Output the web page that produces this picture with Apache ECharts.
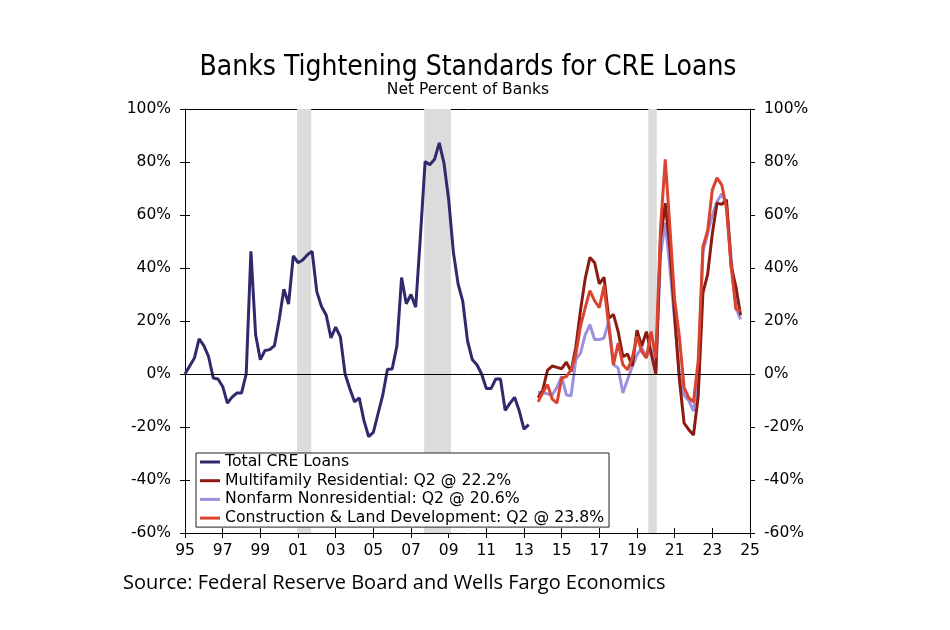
<!DOCTYPE html>
<html><head><meta charset="utf-8">
<script src="https://cdn.jsdelivr.net/npm/echarts@6/dist/echarts.min.js"></script>
<style>html,body{margin:0;padding:0;background:#fff}#c{width:950px;height:630px}</style>
</head><body><div id="c"></div>
<script>
// x axis is in quarters counted from 1995Q1 (index 0) to 2025Q1 (index 120)
const yearTicks = ['95','97','99','01','03','05','07','09','11','13','15','17','19','21','23','25'];
const totalStart = 0;   // 1995Q1
const subStart = 75;    // 2013Q4
const totalCRE = [0, 3, 6, 13.3, 10.7, 6.6, -1.5, -1.9, -4.7, -11, -8.7, -7.2, -7.2, 0, 46.3, 14.8, 5.4, 8.9, 9.2, 10.7, 20.5, 32, 26.4, 44.6, 42, 43, 45, 46.3, 31, 25.5, 22.2, 13.6, 17.7, 14, 0, -5.5, -10.5, -9, -17.5, -23.6, -22, -15, -8, 1.8, 1.9, 10.5, 36.4, 26.5, 30, 25.2, 52, 80.2, 79, 81, 87.2, 79.6, 65.8, 46, 34, 27.4, 12.6, 5.5, 3.5, 0, -5.5, -5.5, -1.9, -1.9, -13.7, -11.1, -8.8, -14, -20.8, -19.1];
const multifamily = [-9, -6, 1.5, 3, 2.5, 2, 4.5, 1, 10, 24, 36, 44, 42, 34, 36.5, 21, 22.5, 16, 6.5, 7.5, 3, 16.5, 10.5, 16, 8, 0, 50.7, 64.5, 47, 22, -2, -18.5, -21, -23, -8.4, 30.6, 37.6, 53, 64.5, 64, 65.8, 40.6, 33, 22.2];
const nonfarm = [-7, -7, -7.5, -7.9, -5, -0.9, -7.9, -8.2, 5.4, 7.9, 14.8, 18.6, 13, 13, 13.6, 19.9, 3.5, 2.3, -7.2, -2.1, 2.9, 7.3, 9.8, 6.7, 9, 1, 45, 57, 40, 20, 0, -8, -10, -14, -2, 46, 53, 60, 65, 68, 64, 44, 25, 20.6];
const construction = [-10.5, -7, -4, -9.5, -11, -1.5, -1, 1.6, 7.3, 18, 25, 31.5, 27.6, 25, 33.3, 18, 3.5, 11.7, 3.5, 1.6, 6, 14.2, 8.5, 6, 16, 6, 55, 81, 55, 28, 14, -5, -9, -10.5, 5, 48, 54, 69.5, 74, 71.4, 62.6, 40.6, 24.5, 23.8];
const recessions = [[2000.95, 2001.7], [2007.7, 2009.12], [2019.6, 2020.05]];
const seriesNames = ['Total CRE Loans', 'Multifamily Residential: Q2 @ 22.2%', 'Nonfarm Nonresidential: Q2 @ 20.6%', 'Construction & Land Development: Q2 @ 23.8%'];
const seriesColors = ['#2f2a6b', '#8c1c12', '#9d90dc', '#d9432f'];

const yearToQ = y => (y - 1995) * 4;
const toPts = (arr, start) => arr.map((v, i) => [start + i, v]);
const FONT = 'DejaVu Sans';

const xBase = {type: 'value', min: 0, max: 120, interval: 8, gridIndex: 0, splitLine: {show: false}};
const yBase = {type: 'value', min: -60, max: 100, interval: 20, splitLine: {show: false}};
const lineAx = {show: true, onZero: false, lineStyle: {color: '#000', width: 1}};

const chart = echarts.init(document.getElementById('c'), null, {renderer: 'canvas'});
const mkLine = (name, arr, start, color, z) => ({
  name, type: 'line', data: toPts(arr, start), showSymbol: false, symbol: 'none',
  lineStyle: {color, width: 3}, itemStyle: {color}, z, animation: false
});
chart.setOption({
  animation: false,
  backgroundColor: '#fff',
  grid: {left: 185, right: 200, top: 109, bottom: 97},
  xAxis: [
    Object.assign({}, xBase, {position: 'bottom', axisLine: lineAx,
      axisTick: {show: true, length: 5, lineStyle: {color: '#000'}},
      axisLabel: {formatter: v => yearTicks[Math.round(v / 8)], color: '#000', fontSize: 15.5, fontFamily: FONT, margin: 10}}),
    Object.assign({}, xBase, {position: 'bottom', axisLine: {show: false, onZero: false},
      axisTick: {show: true, inside: true, length: 5, lineStyle: {color: '#000'}}, axisLabel: {show: false}}),
    Object.assign({}, xBase, {position: 'top', axisLine: lineAx, axisTick: {show: false}, axisLabel: {show: false}})
  ],
  yAxis: [
    Object.assign({}, yBase, {position: 'left', axisLine: lineAx,
      axisTick: {show: true, length: 5, lineStyle: {color: '#000'}},
      axisLabel: {formatter: v => v + '%', color: '#000', fontSize: 15.5, fontFamily: FONT, margin: 14}}),
    Object.assign({}, yBase, {position: 'left', axisLine: {show: false},
      axisTick: {show: true, inside: true, length: 5, lineStyle: {color: '#000'}}, axisLabel: {show: false}}),
    Object.assign({}, yBase, {position: 'right', axisLine: lineAx,
      axisTick: {show: true, length: 5, lineStyle: {color: '#000'}},
      axisLabel: {formatter: v => v + '%', color: '#000', fontSize: 15.5, fontFamily: FONT, margin: 14}}),
    Object.assign({}, yBase, {position: 'right', axisLine: {show: false},
      axisTick: {show: true, inside: true, length: 5, lineStyle: {color: '#000'}}, axisLabel: {show: false}})
  ],
  legend: {
    data: seriesNames, orient: 'vertical', left: 196, top: 453,
    icon: 'rect', itemWidth: 20, itemHeight: 3, itemGap: 2.7,
    padding: [1, 5, 1, 4], borderColor: '#222', borderWidth: 1, backgroundColor: '#fff',
    textStyle: {fontSize: 15.7, fontFamily: FONT, color: '#000', lineHeight: 15},
    selectedMode: false
  },
  graphic: [
    {type: 'text', x: 468, y: 68, style: {text: 'Banks Tightening Standards for CRE Loans', font: '28px "DejaVu Sans Condensed"', fill: '#000', align: 'center', verticalAlign: 'middle'}},
    {type: 'text', x: 468, y: 90, style: {text: 'Net Percent of Banks', font: '15.5px "DejaVu Sans"', fill: '#000', align: 'center', verticalAlign: 'middle'}},
    {type: 'text', left: 123, top: 573, style: {text: 'Source: Federal Reserve Board and Wells Fargo Economics', font: '20px "Open Sans"', fill: '#000'}}
  ],
  series: [
    {type: 'line', data: [], silent: true, z: 1,
      markArea: {silent: true, itemStyle: {color: '#dcdcdc'},
        data: recessions.map(r => [{xAxis: yearToQ(r[0])}, {xAxis: yearToQ(r[1])}])},
      markLine: {silent: true, symbol: 'none', label: {show: false}, lineStyle: {color: '#000', width: 1, type: 'solid'},
        data: [{yAxis: 0}]}},
    mkLine(seriesNames[0], totalCRE, totalStart, seriesColors[0], 3),
    mkLine(seriesNames[1], multifamily, subStart, seriesColors[1], 4),
    mkLine(seriesNames[2], nonfarm, subStart, seriesColors[2], 3),
    mkLine(seriesNames[3], construction, subStart, seriesColors[3], 5)
  ]
});
</script></body></html>
